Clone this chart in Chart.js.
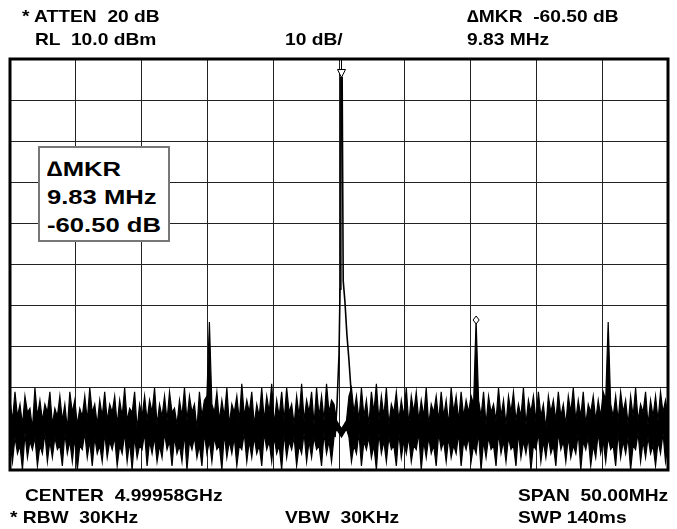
<!DOCTYPE html>
<html>
<head>
<meta charset="utf-8">
<script src="https://cdn.jsdelivr.net/npm/chart.js@4"></script>
<style>
  body { margin: 0; background: #fff; }
  #wrap { position: relative; width: 677px; height: 529px; font-family: "Liberation Sans", Arial, sans-serif; font-weight: bold; color: #000; }
  #wrap canvas { position: absolute; left: 0; top: 0; }
  .lbl { position: absolute; font-size: 17px; line-height: 18px; white-space: pre; transform-origin: 0 0; transform: scaleX(1.13); }
  #mkrBox { position: absolute; left: 38px; top: 146px; width: 128px; height: 92px; border: 2px solid #777; background: #fff; }
  #mkrBox div { position: absolute; left: 7px; font-size: 21px; line-height: 22px; white-space: pre; transform-origin: 0 0; transform: scaleX(1.22); }
</style>
</head>
<body>
<div id="wrap">
  <canvas id="spec" width="677" height="529"></canvas>
  <div class="lbl" style="left:22px; top:8px">* ATTEN  20 dB</div>
  <div class="lbl" style="left:35px; top:31px">RL  10.0 dBm</div>
  <div class="lbl" style="left:285px; top:31px">10 dB/</div>
  <div class="lbl" style="left:467px; top:8px">∆MKR  -60.50 dB</div>
  <div class="lbl" style="left:467px; top:31px">9.83 MHz</div>
  <div class="lbl" style="left:25px; top:487px">CENTER  4.99958GHz</div>
  <div class="lbl" style="left:10px; top:509px">* RBW  30KHz</div>
  <div class="lbl" style="left:285px; top:509px">VBW  30KHz</div>
  <div class="lbl" style="left:518px; top:487px">SPAN  50.00MHz</div>
  <div class="lbl" style="left:518px; top:509px">SWP 140ms</div>
  <div id="mkrBox">
    <div style="top:10px">∆MKR</div>
    <div style="top:38px">9.83 MHz</div>
    <div style="top:66px">-60.50 dB</div>
  </div>
</div>
<script>
// sweep: offset from center frequency in MHz, 10 dB/div from RL 10 dBm
const freqStart = -25;
const freqStop = 25;
const refLevel = 10;
const bottomLevel = -90;

// upper edge of the noise trace (peaks), dBm per sweep point
const traceTop = [
  -73,-78,-71,-77,-74,-79,-72,-76,-75,-80,-70,-77,-73,-78,-74,-76,-71,-79,-75,-77,
  -72,-78,-74,-80,-71,-76,-73,-79,-75,-77,-72,-78,-70,-76,-74,-79,-73,-77,-71,-78,
  -74,-76,-72,-79,-73,-77,-70,-78,-75,-76,-71,-80,-74,-77,-72,-78,-73,-76,-70,-79,
  -74,-77,-72,-78,-71,-76,-75,-79,-73,-77,-70,-78,-72,-76,-74,-80,-71,-77,-73,-72,
  -54,-74,-76,-71,-78,-73,-77,-70,-79,-74,-76,-72,-78,-69,-77,-73,-76,-71,-79,-74,
  -77,-70,-78,-72,-76,-69,-79,-73,-77,-71,-78,-70,-76,-74,-79,-72,-77,-69,-78,-73,
  -76,-71,-79,-70,-77,-72,-78,-69,-76,-73,-74,-78,-79,-80,-79,-78,-72,-70,-76,-72,
  -78,-70,-77,-73,-79,-71,-76,-69,-78,-72,-77,-70,-79,-74,-76,-71,-78,-73,-77,-70,
  -79,-72,-76,-71,-78,-73,-77,-70,-79,-74,-76,-72,-78,-71,-77,-73,-79,-70,-76,-72,
  -78,-71,-77,-73,-76,-72,-74,-53.5,-73,-77,-71,-79,-72,-76,-74,-78,-70,-77,-73,-79,
  -72,-76,-71,-78,-74,-77,-70,-79,-73,-76,-72,-78,-71,-77,-74,-80,-72,-76,-73,-78,
  -71,-77,-74,-79,-72,-76,-70,-78,-73,-77,-71,-79,-74,-76,-72,-78,-73,-77,-71,-73,
  -54,-74,-77,-72,-78,-71,-76,-73,-79,-72,-77,-70,-78,-74,-76,-71,-79,-73,-77,-72,
  -78,-71,-76,-73,-77
];

// lower edge of the noise trace (dips), dBm per sweep point
const traceBottom = [
  -83,-88,-82,-86,-84,-90,-81,-87,-83,-85,-82,-89,-84,-86,-81,-88,-83,-87,-82,-85,
  -84,-89,-81,-86,-83,-88,-82,-90,-84,-85,-81,-87,-83,-89,-82,-86,-84,-88,-81,-87,
  -83,-85,-82,-89,-84,-86,-81,-88,-83,-90,-82,-87,-84,-85,-81,-89,-83,-86,-82,-88,
  -84,-87,-81,-85,-83,-89,-82,-86,-84,-88,-81,-90,-83,-85,-82,-87,-84,-89,-81,-86,
  -83,-88,-82,-85,-84,-90,-81,-87,-83,-86,-82,-89,-84,-85,-81,-88,-83,-87,-82,-86,
  -84,-89,-81,-85,-83,-88,-82,-86,-84,-90,-81,-87,-83,-85,-82,-89,-84,-86,-81,-88,
  -83,-87,-82,-85,-84,-89,-81,-86,-83,-88,-82,-80,-81,-82,-81,-80,-82,-88,-84,-86,
  -81,-89,-83,-85,-82,-87,-84,-90,-81,-86,-83,-88,-82,-85,-84,-89,-81,-87,-83,-86,
  -82,-88,-84,-85,-81,-90,-83,-87,-82,-86,-84,-89,-81,-85,-83,-88,-82,-87,-84,-86,
  -81,-89,-83,-85,-82,-88,-84,-86,-81,-90,-83,-87,-82,-85,-84,-89,-81,-86,-83,-88,
  -82,-85,-84,-89,-81,-87,-83,-86,-82,-90,-84,-85,-81,-88,-83,-87,-82,-86,-84,-89,
  -81,-85,-83,-88,-82,-87,-84,-86,-81,-90,-83,-85,-82,-89,-84,-87,-81,-86,-83,-88,
  -82,-85,-84,-89,-81,-87,-83,-86,-82,-90,-84,-85,-81,-88,-83,-87,-82,-86,-84,-89,
  -83,-86,-81,-88,-84
];

// carrier and its skirt, MHz offset / dBm
const carrierFreqs = [-0.30, -0.15, 0.0, 0.08, 0.14, 0.24, 0.32, 0.45, 0.60, 0.75, 0.90, 1.05];
const carrierLevels = [-82, -74, -62, -46, 5.5, 5.5, -44, -49, -57, -63, -70, -79];

// markers: reference (triangle) on the carrier, delta (diamond) on the sideband
const markerFreqs = [0.19, 10.42];
const markerLevels = [5.5, -53.5];

const toPoints = arr => {
  const step = (freqStop - freqStart) / (arr.length - 1);
  return arr.map((v, i) => ({ x: freqStart + i * step, y: v }));
};

const framePlugin = {
  id: 'frame',
  afterDatasetsDraw(chart) {
    const { ctx, chartArea: a, scales } = chart;
    ctx.save();
    // thick screen border
    ctx.strokeStyle = '#000';
    ctx.lineWidth = 3;
    ctx.strokeRect(a.left, a.top, a.right - a.left, a.bottom - a.top);

    // reference marker: open triangle with a tick up to the top edge
    const mx = scales.x.getPixelForValue(markerFreqs[0]);
    const my = scales.y.getPixelForValue(markerLevels[0]);
    ctx.lineWidth = 1;
    ctx.beginPath();
    ctx.moveTo(mx, a.top);
    ctx.lineTo(mx, my - 8);
    ctx.stroke();
    ctx.beginPath();
    ctx.moveTo(mx - 4, my - 8);
    ctx.lineTo(mx + 4, my - 8);
    ctx.lineTo(mx, my);
    ctx.closePath();
    ctx.fillStyle = '#fff';
    ctx.fill();
    ctx.stroke();

    // delta marker: open diamond
    const dx = scales.x.getPixelForValue(markerFreqs[1]);
    const dy = scales.y.getPixelForValue(markerLevels[1]);
    ctx.beginPath();
    ctx.moveTo(dx, dy - 4);
    ctx.lineTo(dx + 3, dy);
    ctx.lineTo(dx, dy + 4);
    ctx.lineTo(dx - 3, dy);
    ctx.closePath();
    ctx.fill();
    ctx.stroke();
    ctx.restore();
  }
};

new Chart(document.getElementById('spec'), {
  type: 'line',
  data: {
    datasets: [
      {
        data: toPoints(traceBottom),
        borderColor: '#000',
        borderWidth: 1.2,
        pointRadius: 0,
        tension: 0,
        fill: false
      },
      {
        data: toPoints(traceTop),
        borderColor: '#000',
        backgroundColor: '#000',
        borderWidth: 1.2,
        pointRadius: 0,
        tension: 0,
        fill: '-1'
      },
      {
        data: carrierFreqs.map((f, i) => ({ x: f, y: carrierLevels[i] })),
        borderColor: '#000',
        borderWidth: 1.6,
        pointRadius: 0,
        tension: 0,
        fill: false
      }
    ]
  },
  options: {
    responsive: false,
    animation: false,
    events: [],
    layout: { padding: { left: 10, right: 9, top: 59, bottom: 59 } },
    plugins: { legend: { display: false }, tooltip: { enabled: false } },
    scales: {
      x: {
        type: 'linear',
        min: freqStart,
        max: freqStop,
        ticks: { display: false, stepSize: 5 },
        grid: { color: '#222', lineWidth: 1, drawTicks: false },
        border: { display: false }
      },
      y: {
        type: 'linear',
        min: bottomLevel,
        max: refLevel,
        ticks: { display: false, stepSize: 10 },
        grid: { color: '#222', lineWidth: 1, drawTicks: false },
        border: { display: false }
      }
    }
  },
  plugins: [framePlugin]
});
</script>
</body>
</html>
